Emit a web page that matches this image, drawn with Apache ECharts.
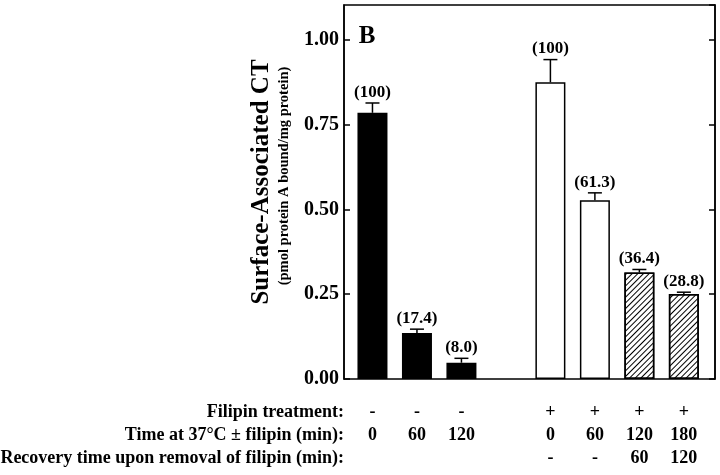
<!DOCTYPE html>
<html>
<head>
<meta charset="utf-8">
<script src="https://cdn.jsdelivr.net/npm/echarts@6/dist/echarts.min.js"></script>
<style>
html,body{margin:0;padding:0;background:#fff;}
#c{width:720px;height:475px;}
</style>
</head>
<body>
<div id="c"></div>
<script>
// ---- data ----
const slots = ['ctrl-0', 'ctrl-60', 'ctrl-120', '', 'fil-0', 'fil-60', 'fil-120-r60', 'fil-180-r120'];
const meanValues = [0.785, 0.136, 0.048, null, 0.875, 0.527, 0.314, 0.251];
const errorTops = [0.814, 0.147, 0.061, null, 0.942, 0.549, 0.323, 0.256];
const percentLabels = ['(100)', '(17.4)', '(8.0)', '', '(100)', '(61.3)', '(36.4)', '(28.8)'];
const barKinds = ['solid', 'solid', 'solid', '', 'open', 'open', 'hatched', 'hatched'];
const filipinRow = ['-', '-', '-', '', '+', '+', '+', '+'];
const timeRow = ['0', '60', '120', '', '0', '60', '120', '180'];
const recoveryRow = ['', '', '', '', '-', '-', '60', '120'];
const rowTitles = ['Filipin treatment:', 'Time at 37\u00B0C \u00B1 filipin (min):', 'Recovery time upon removal of filipin (min):'];
const yTicks = [0, 0.25, 0.5, 0.75, 1.0];
const yTitle = 'Surface-Associated CT';
const ySubTitle = '(pmol protein A bound/mg protein)';
const panelLetter = 'B';

const FONT = "'Liberation Serif', 'Times New Roman', serif";
const ROW_Y = [412, 435, 458];

const chart = echarts.init(document.getElementById('c'), null, {renderer: 'canvas'});

const hatchDecal = {
  symbol: 'rect', symbolSize: 1, color: '#000',
  dashArrayX: [1, 0], dashArrayY: [0.8, 2.9], rotation: -Math.PI / 4
};

const barData = [];
const errData = [];
slots.forEach((s, i) => {
  if (meanValues[i] == null) return;
  const kind = barKinds[i];
  const item = {value: [i + 1, meanValues[i]], itemStyle: {}};
  if (kind === 'solid') {
    item.itemStyle = {color: '#000', borderColor: '#000', borderWidth: 1.5};
  } else if (kind === 'open') {
    item.itemStyle = {color: '#fff', borderColor: '#000', borderWidth: 1.5};
  } else {
    item.itemStyle = {color: '#fff', borderColor: '#000', borderWidth: 1.5, decal: hatchDecal};
  }
  barData.push(item);
  errData.push([i + 1, errorTops[i], meanValues[i], i]);
});
const rowData = slots.map((s, i) => [i + 1, 0, i]);

chart.setOption({
  animation: false,
  grid: {left: 344, right: 5, top: 5, bottom: 96, show: true, borderColor: '#000', borderWidth: 1.5, backgroundColor: 'transparent'},
  xAxis: {
    type: 'value', min: 0.36, max: 8.7, show: false
  },
  yAxis: [{
    type: 'value', min: 0, max: 1.103, interval: 0.25,
    axisLine: {show: true, lineStyle: {color: '#000', width: 1.5}},
    axisTick: {show: true, inside: true, length: 6, lineStyle: {color: '#000', width: 1.5}},
    splitLine: {show: false},
    axisLabel: {
      showMaxLabel: false, margin: 5, color: '#000',
      fontFamily: FONT, fontWeight: 'bold', fontSize: 20,
      formatter: v => yTicks.some(t => Math.abs(t - v) < 1e-6) ? v.toFixed(2) : ''
    }
  }, {
    type: 'value', min: 0, max: 1.103, interval: 0.25, position: 'right',
    axisLine: {show: true, lineStyle: {color: '#000', width: 1.5}},
    axisTick: {show: true, inside: true, length: 6, lineStyle: {color: '#000', width: 1.5}},
    splitLine: {show: false},
    axisLabel: {show: false}
  }],
  series: [{
    type: 'bar', barWidth: 30, data: barData, yAxisIndex: 0
  }, {
    type: 'custom', clip: false, data: errData, z: 5,
    renderItem: (params, api) => {
      const x = api.value(0), top = api.value(1), mean = api.value(2), idx = api.value(3);
      const pb = api.coord([x, mean]);
      const pt = api.coord([x, top]);
      const st = {stroke: '#000', lineWidth: 1.5};
      return {type: 'group', children: [
        {type: 'line', shape: {x1: pt[0], y1: pb[1], x2: pt[0], y2: pt[1]}, style: st},
        {type: 'line', shape: {x1: pt[0] - 7, y1: pt[1], x2: pt[0] + 7, y2: pt[1]}, style: st},
        {type: 'text', style: {x: pt[0], y: pt[1] - 2, text: percentLabels[idx], align: 'center', verticalAlign: 'bottom',
          fill: '#000', font: 'bold 17px ' + FONT}}
      ]};
    }
  }, {
    type: 'custom', clip: false, data: rowData, silent: true,
    renderItem: (params, api) => {
      const x = api.value(0), idx = api.value(2);
      const p = api.coord([x, 0]);
      const rows = [filipinRow[idx], timeRow[idx], recoveryRow[idx]];
      return {type: 'group', children: rows.map((t, r) => ({
        type: 'text', style: {x: p[0], y: ROW_Y[r], text: t, align: 'center', verticalAlign: 'middle',
          fill: '#000', font: 'bold 18px ' + FONT}
      }))};
    }
  }],
  graphic: [
    {type: 'text', x: 262, y: 182, rotation: Math.PI / 2,
      style: {text: yTitle, align: 'center', verticalAlign: 'middle', fill: '#000', font: 'bold 25px ' + FONT}},
    {type: 'text', x: 284, y: 176, rotation: Math.PI / 2,
      style: {text: ySubTitle, align: 'center', verticalAlign: 'middle', fill: '#000', font: 'bold 14.5px ' + FONT}},
    {type: 'text', x: 367, y: 37,
      style: {text: panelLetter, align: 'center', verticalAlign: 'middle', fill: '#000', font: 'bold 25px ' + FONT}},
    {type: 'text', x: 344, y: ROW_Y[0], style: {text: rowTitles[0], align: 'right', verticalAlign: 'middle', fill: '#000', font: 'bold 18px ' + FONT}},
    {type: 'text', x: 344, y: ROW_Y[1], style: {text: rowTitles[1], align: 'right', verticalAlign: 'middle', fill: '#000', font: 'bold 18px ' + FONT}},
    {type: 'text', x: 344, y: ROW_Y[2], style: {text: rowTitles[2], align: 'right', verticalAlign: 'middle', fill: '#000', font: 'bold 18px ' + FONT}}
  ]
});
</script>
</body>
</html>
